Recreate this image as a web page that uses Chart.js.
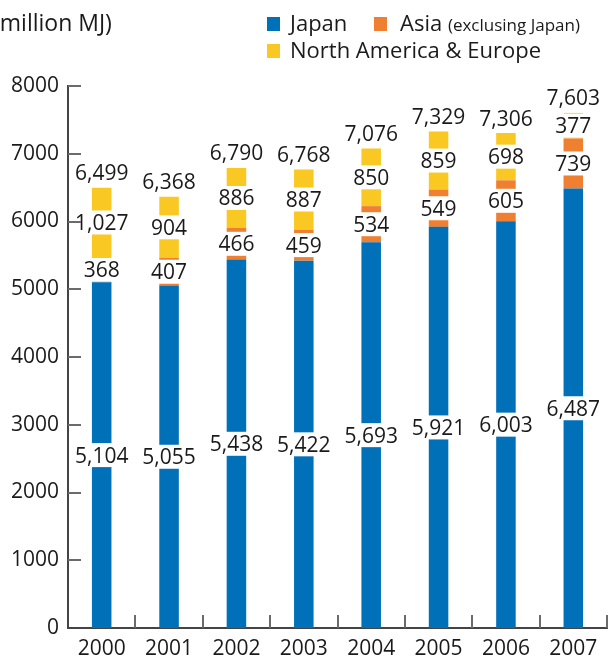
<!DOCTYPE html>
<html><head><meta charset="utf-8">
<script src="https://cdn.jsdelivr.net/npm/chart.js@4/dist/chart.umd.min.js"></script>
<style>
html,body{margin:0;padding:0;background:#fff;}
#wrap{position:relative;width:608px;height:659px;overflow:hidden;font-family:"Open Sans",sans-serif;color:#1a1a1a;}
canvas{position:absolute;left:0;top:0;}
.t{position:absolute;white-space:nowrap;line-height:1;}
.sq{position:absolute;width:13px;height:14px;}
</style></head><body>
<div id="wrap">
<canvas id="c" width="608" height="659"></canvas>
<div class="t" style="left:-7px;top:11px;font-size:23px;">(million MJ)</div>
<div class="sq" style="left:267px;top:17px;background:#0070b9"></div>
<div class="t" style="left:290px;top:11px;font-size:22px;">Japan</div>
<div class="sq" style="left:374px;top:17px;background:#ef7f31"></div>
<div class="t" style="left:400px;top:11px;font-size:22px;">Asia <span style="font-size:17px;">(exclusing Japan)</span></div>
<div class="sq" style="left:267px;top:44px;background:#fac823"></div>
<div class="t" style="left:290px;top:38px;font-size:22px;">North America &amp; Europe</div>
</div>
<script>
const years = ['2000','2001','2002','2003','2004','2005','2006','2007'];
const japan = [5104, 5055, 5438, 5422, 5693, 5921, 6003, 6487];
const asia = [368, 407, 466, 459, 534, 549, 605, 739];
const naEurope = [1027, 904, 886, 887, 850, 859, 698, 377];
const totals = [6499, 6368, 6790, 6768, 7076, 7329, 7306, 7603];
const yMax = 8000;
const yStep = 1000;

const FONT = '"Open Sans", sans-serif';
const FS = 21;
const fmt = v => v.toLocaleString('en-US');

const labelPlugin = {
  id: 'segLabels',
  afterDatasetsDraw(chart) {
    const ctx = chart.ctx;
    ctx.save();
    ctx.font = FS + 'px ' + FONT;
    ctx.textAlign = 'center';
    ctx.textBaseline = 'alphabetic';
    chart.data.datasets.forEach((ds, d) => {
      const meta = chart.getDatasetMeta(d);
      meta.data.forEach((el, j) => {
        const cy = (el.y + el.base) / 2;
        const txt = fmt(ds.data[j]);
        const w = ctx.measureText(txt).width;
        ctx.fillStyle = '#fff';
        ctx.fillRect(el.x - w / 2 - 1, cy - 12, w + 2, 24);
        ctx.fillStyle = '#1a1a1a';
        ctx.fillText(txt, el.x, cy + 0.357 * FS);
      });
    });
    const last = chart.getDatasetMeta(chart.data.datasets.length - 1);
    last.data.forEach((el, j) => {
      ctx.fillStyle = '#1a1a1a';
      ctx.fillText(fmt(totals[j]), el.x, el.y - 15 + 0.357 * FS);
    });
    ctx.restore();
  }
};

const tickPlugin = {
  id: 'innerTicks',
  afterDraw(chart) {
    const {ctx, scales: {x, y}, chartArea: a} = chart;
    ctx.save();
    ctx.strokeStyle = '#6b6b6b';
    ctx.lineWidth = 2;
    y.ticks.forEach(t => {
      if (t.value === 0) return;
      const py = Math.round(y.getPixelForValue(t.value));
      ctx.beginPath(); ctx.moveTo(a.left, py); ctx.lineTo(a.left + 13, py); ctx.stroke();
    });
    for (let i = 0; i < years.length; i++) {
      const px = Math.round(x.getPixelForValue(i + 0.5));
      ctx.beginPath(); ctx.moveTo(px, a.bottom); ctx.lineTo(px, a.bottom - 13); ctx.stroke();
    }
    ctx.restore();
  }
};

new Chart(document.getElementById('c'), {
  type: 'bar',
  data: {
    labels: years,
    datasets: [
      {label: 'Japan', data: japan, backgroundColor: '#0070b9'},
      {label: 'Asia (exclusing Japan)', data: asia, backgroundColor: '#ef7f31'},
      {label: 'North America & Europe', data: naEurope, backgroundColor: '#fac823'}
    ]
  },
  options: {
    responsive: false,
    animation: false,
    devicePixelRatio: 1,
    datasets: {bar: {categoryPercentage: 1, barPercentage: 0.29}},
    layout: {padding: {top: 86, right: 1, left: 0, bottom: 0}},
    plugins: {legend: {display: false}, tooltip: {enabled: false}, title: {display: false}},
    scales: {
      x: {
        stacked: true, offset: true,
        grid: {display: false, drawTicks: false, tickLength: 0},
        border: {display: true, color: '#444', width: 2},
        ticks: {font: {family: FONT, size: FS}, color: '#1a1a1a', padding: 8, maxRotation: 0, autoSkip: false},
        afterFit(s) { s.height = 31; }
      },
      y: {
        stacked: true, min: 0, max: yMax,
        grid: {display: false, drawTicks: false, tickLength: 0},
        border: {display: true, color: '#444', width: 2},
        ticks: {stepSize: yStep, font: {family: FONT, size: FS}, color: '#1a1a1a', padding: 9, callback: v => String(v)},
        afterFit(s) { s.width = 68; }
      }
    }
  },
  plugins: [labelPlugin, tickPlugin]
});
</script>
</body></html>
